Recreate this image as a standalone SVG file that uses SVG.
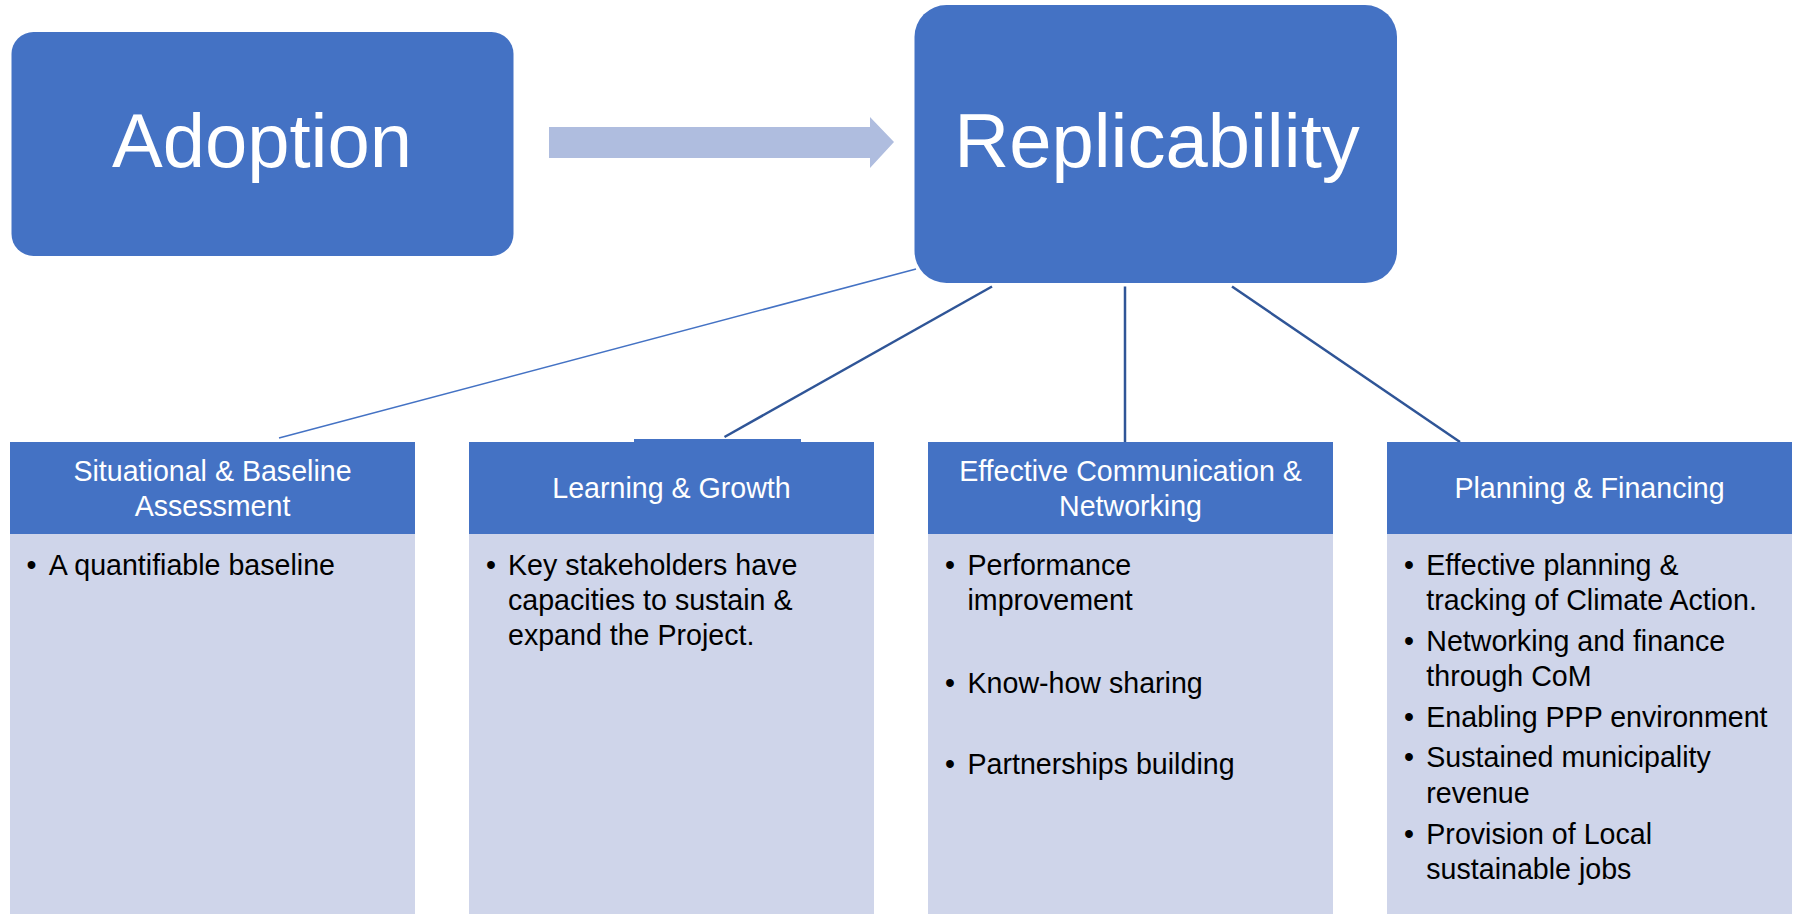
<svg xmlns="http://www.w3.org/2000/svg" width="1797" height="914" viewBox="0 0 1797 914">
<style>
.big{font-family:"Liberation Sans",Arial,sans-serif;font-size:76px;fill:#fff;text-anchor:middle}
.hd{font-family:"Liberation Sans",Arial,sans-serif;font-size:28.6px;fill:#fff;text-anchor:middle}
.bt{font-family:"Liberation Sans",Arial,sans-serif;font-size:28.6px;fill:#000}
.bl{font-family:"Liberation Sans",Arial,sans-serif;font-size:28.6px;fill:#000;text-anchor:middle}
.blue{fill:#4472C4}
.light{fill:#CFD5EA}
</style>
<rect width="1797" height="914" fill="#fff"/>
<g id="connectors" fill="none">
<line x1="916" y1="269" x2="279" y2="438" stroke="#4472C4" stroke-width="1.5"/>
<line x1="992" y1="286.5" x2="724.5" y2="437" stroke="#2F5597" stroke-width="2.5"/>
<line x1="1125" y1="286.5" x2="1125" y2="442" stroke="#2F5597" stroke-width="2.5"/>
<line x1="1232" y1="286.5" x2="1460" y2="442" stroke="#2F5597" stroke-width="2.5"/>
<polygon points="549,127 870,127 870,117 894,142 870,168 870,158 549,158" fill="#AFBDDF"/>
</g>
<g id="adoption">
<rect x="11.5" y="32" width="502" height="224" rx="22" ry="22" class="blue"/>
<text x="262" y="167" class="big">Adoption</text>
</g>
<g id="replicability">
<rect x="914.5" y="5" width="482.5" height="278" rx="32" ry="32" class="blue"/>
<text x="1157" y="167" class="big">Replicability</text>
</g>
<g id="situational">
<rect x="10" y="442" width="405" height="92" class="blue"/>
<rect x="10" y="534" width="405" height="380" class="light"/>
<text x="212.5" y="481" class="hd">Situational &amp; Baseline</text>
<text x="212.5" y="516" class="hd">Assessment</text>
<text x="31.6" y="575" class="bl">•</text>
<text x="48.8" y="575" class="bt">A quantifiable baseline</text>
</g>
<g id="learning">
<rect x="634" y="439" width="167" height="4" class="blue"/>
<rect x="469" y="442" width="405" height="92" class="blue"/>
<rect x="469" y="534" width="405" height="380" class="light"/>
<text x="671.5" y="498" class="hd">Learning &amp; Growth</text>
<text x="491" y="575" class="bl">•</text>
<text x="508" y="575" class="bt">Key stakeholders have</text>
<text x="508" y="610" class="bt">capacities to sustain &amp;</text>
<text x="508" y="645" class="bt">expand the Project.</text>
</g>
<g id="communication">
<rect x="928" y="442" width="405" height="92" class="blue"/>
<rect x="928" y="534" width="405" height="380" class="light"/>
<text x="1130.5" y="481" class="hd">Effective Communication &amp;</text>
<text x="1130.5" y="516" class="hd">Networking</text>
<text x="950" y="575" class="bl">•</text>
<text x="967.5" y="575" class="bt">Performance</text>
<text x="967.5" y="610" class="bt">improvement</text>
<text x="950" y="693" class="bl">•</text>
<text x="967.5" y="693" class="bt">Know-how sharing</text>
<text x="950" y="774" class="bl">•</text>
<text x="967.5" y="774" class="bt">Partnerships building</text>
</g>
<g id="planning">
<rect x="1387" y="442" width="405" height="92" class="blue"/>
<rect x="1387" y="534" width="405" height="380" class="light"/>
<text x="1589.5" y="498" class="hd">Planning &amp; Financing</text>
<text x="1409" y="575" class="bl">•</text>
<text x="1426.3" y="575" class="bt">Effective planning &amp;</text>
<text x="1426.3" y="610" class="bt">tracking of Climate Action.</text>
<text x="1409" y="651" class="bl">•</text>
<text x="1426.3" y="651" class="bt">Networking and finance</text>
<text x="1426.3" y="686" class="bt">through CoM</text>
<text x="1409" y="727" class="bl">•</text>
<text x="1426.3" y="727" class="bt">Enabling PPP environment</text>
<text x="1409" y="767" class="bl">•</text>
<text x="1426.3" y="767" class="bt">Sustained municipality</text>
<text x="1426.3" y="803" class="bt">revenue</text>
<text x="1409" y="844" class="bl">•</text>
<text x="1426.3" y="844" class="bt">Provision of Local</text>
<text x="1426.3" y="879" class="bt">sustainable jobs</text>
</g>
</svg>
